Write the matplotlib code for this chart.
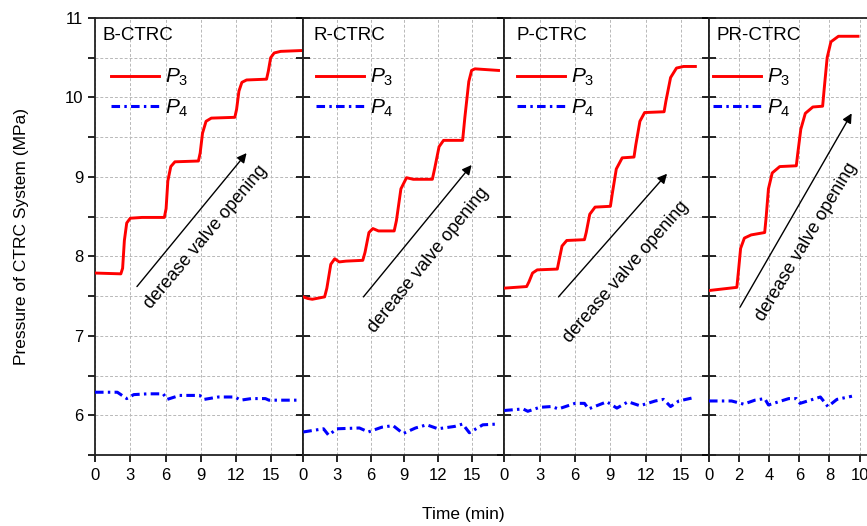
import matplotlib
matplotlib.use("Agg")
import matplotlib.pyplot as plt
from matplotlib.ticker import MultipleLocator, FuncFormatter

plt.rcParams['font.family'] = ['Liberation Sans', 'DejaVu Sans']
plt.rcParams['mathtext.fontset'] = 'custom'
plt.rcParams['mathtext.it'] = 'Liberation Sans:italic'
plt.rcParams['mathtext.rm'] = 'Liberation Sans'

# ---- data ----
panel_names = ['B-CTRC', 'R-CTRC', 'P-CTRC', 'PR-CTRC']

b_t3 = [0, 2.2, 2.35, 2.5, 2.7, 3.0, 4, 5.9, 6.05, 6.2, 6.45, 6.8, 8.8, 8.95, 9.15, 9.45,
        9.9, 11.9, 12.05, 12.25, 12.5, 12.9, 14.6, 14.75, 14.95, 15.25, 15.8, 17.5]
b_p3 = [7.79, 7.78, 7.85, 8.2, 8.42, 8.48, 8.49, 8.49, 8.6, 8.95, 9.13, 9.19, 9.2, 9.3, 9.55, 9.7,
        9.74, 9.75, 9.85, 10.08, 10.19, 10.22, 10.23, 10.33, 10.5, 10.56, 10.58, 10.59]
b_t4 = [0, 1.9, 2.7, 3.3, 4.5, 5.8, 6.15, 7.2, 8.9, 9.3, 10.5, 11.9, 12.4, 13.3, 14.5, 14.8, 17.5]
b_p4 = [6.29, 6.29, 6.21, 6.26, 6.27, 6.27, 6.20, 6.25, 6.25, 6.20, 6.23, 6.23, 6.19, 6.21, 6.21, 6.19, 6.19]

r_t3 = [0, 0.4, 0.8, 1.9, 2.1, 2.45, 2.8, 3.2, 3.8, 5.3, 5.5, 5.85, 6.2, 6.7, 8.1, 8.3, 8.7, 9.2,
        9.8, 11.5, 11.7, 12.1, 12.5, 14.2, 14.4, 14.75, 15.0, 15.3, 17.4]
r_p3 = [7.49, 7.47, 7.46, 7.49, 7.6, 7.9, 7.97, 7.93, 7.94, 7.95, 8.05, 8.3, 8.35, 8.32, 8.32, 8.45, 8.85, 8.99,
        8.97, 8.97, 9.1, 9.38, 9.46, 9.46, 9.75, 10.2, 10.34, 10.36, 10.34]
r_t4 = [0, 1.8, 2.25, 3.0, 5.0, 5.8, 7.0, 8.0, 8.9, 10.0, 11.0, 12.0, 13.5, 14.2, 14.8, 16.0, 17.4]
r_p4 = [5.79, 5.83, 5.75, 5.83, 5.84, 5.79, 5.85, 5.87, 5.77, 5.84, 5.88, 5.83, 5.86, 5.89, 5.78, 5.88, 5.89]

p_t3 = [0, 1.9, 2.1, 2.4, 2.8, 4.5, 4.65, 4.9, 5.3, 6.8, 6.95, 7.25, 7.7, 9.0, 9.15, 9.5, 10.0,
        11.0, 11.15, 11.5, 11.9, 13.55, 13.7, 14.1, 14.6, 15.2, 16.2]
p_p3 = [7.6, 7.62, 7.68, 7.79, 7.83, 7.84, 7.95, 8.13, 8.2, 8.21, 8.3, 8.53, 8.62, 8.63, 8.78, 9.1, 9.24,
        9.25, 9.4, 9.7, 9.81, 9.82, 9.95, 10.25, 10.37, 10.39, 10.39]
p_t4 = [0, 1.6, 2.0, 3.0, 4.0, 4.6, 6.0, 6.8, 7.15, 8.7, 9.55, 10.5, 11.5, 12.8, 13.5, 14.1, 14.8, 16.0]
p_p4 = [6.06, 6.08, 6.05, 6.10, 6.11, 6.08, 6.15, 6.15, 6.08, 6.17, 6.09, 6.17, 6.12, 6.18, 6.20, 6.11, 6.18, 6.22]

pr_t3 = [0, 1.85, 1.95, 2.1, 2.35, 2.8, 3.7, 3.8, 3.95, 4.2, 4.7, 5.8, 5.9, 6.1, 6.4, 6.9,
         7.55, 7.65, 7.85, 8.1, 8.6, 9.9]
pr_p3 = [7.57, 7.61, 7.8, 8.1, 8.23, 8.27, 8.3, 8.5, 8.85, 9.05, 9.13, 9.14, 9.3, 9.6, 9.8, 9.88,
         9.89, 10.1, 10.5, 10.7, 10.77, 10.77]
pr_t4 = [0, 1.5, 2.3, 3.05, 3.7, 3.95, 5.3, 5.8, 6.05, 7.4, 7.9, 8.5, 9.5]
pr_p4 = [6.18, 6.18, 6.14, 6.19, 6.21, 6.13, 6.21, 6.21, 6.15, 6.23, 6.11, 6.20, 6.24]

series = [(b_t3, b_p3, b_t4, b_p4), (r_t3, r_p3, r_t4, r_p4),
          (p_t3, p_p3, p_t4, p_p4), (pr_t3, pr_p3, pr_t4, pr_p4)]

# arrows: (t_start, v_start, t_end, v_end), text centre and angle
arrows = [(3.57, 7.62, 12.9, 9.30), (5.36, 7.49, 15.0, 9.15),
          (4.6, 7.49, 13.8, 9.04), (2.06, 7.36, 9.48, 9.80)]
notes = [(9.4, 8.24, 50), (11.2, 7.95, 51), (10.3, 7.80, 49), (6.46, 8.18, 59)]

# ---- layout (pixels) ----
W, H = 867, 526
x_edges = [95, 303.3, 504.2, 709]
x_max = [17.73, 17.9, 17.36, 11.0]
x_step = [3, 3, 3, 2]
px_per = [11.75, 11.22, 11.8, 15.05]
title_dx = [7, 10, 12.5, 7.5]
leg_dx = [17, 13.5, 14, 5]
top, bottom = 18, 455

fig = plt.figure(figsize=(W / 100, H / 100), dpi=100)
axes = []
for i in range(4):
    w = x_max[i] * px_per[i]
    ax = fig.add_axes([x_edges[i] / W, 1 - bottom / H, w / W, (bottom - top) / H])
    axes.append(ax)
    t3, p3, t4, p4 = series[i]
    ax.plot(t3, p3, color='#ff0000', lw=2.1, label='$P_3$', solid_joinstyle='round', zorder=4)
    ax.plot(t4, p4, color='#0000ff', lw=2.2, ls=(0, (2.8, 1.4, 0.8, 1.4)), label='$P_4$',
            zorder=4)
    ax.set_xlim(0, x_max[i])
    ax.set_ylim(5.5, 11)
    ax.xaxis.set_major_locator(MultipleLocator(x_step[i]))
    ax.yaxis.set_major_locator(MultipleLocator(0.5))
    ax.grid(True, color='#b8b8b8', ls=(0, (3, 2)), lw=0.7)
    for s in ax.spines.values():
        s.set_linewidth(1.3)
        s.set_color('#222222')
    ax.tick_params(axis='x', direction='out', length=5, width=1.2, labelsize=12, pad=4)
    if i == 0:
        ax.tick_params(axis='y', direction='out', length=5, width=1.2, labelsize=12)
        ax.yaxis.set_major_formatter(FuncFormatter(
            lambda v, p: '%d' % v if abs(v - round(v)) < 1e-6 else ''))
    else:
        ax.tick_params(axis='y', direction='inout', length=10, width=1.2, labelleft=False)
    ax.text(title_dx[i] / w, 1 - 18 / (bottom - top), panel_names[i], transform=ax.transAxes,
            fontsize=13.5, ha='left', va='center')
    leg = ax.legend(loc='upper left', frameon=False, fontsize=15,
                    bbox_to_anchor=(leg_dx[i] / w - 0.005, 1 - 49 / (bottom - top)),
                    borderpad=0, borderaxespad=0, handlelength=2.3, handletextpad=0.3,
                    labelspacing=0.45)
    a = arrows[i]
    ax.annotate('', xy=(a[2], a[3]), xytext=(a[0], a[1]),
                arrowprops=dict(arrowstyle='-|>', color='black', lw=1.0,
                                mutation_scale=14, shrinkA=0, shrinkB=0), zorder=5)
    n = notes[i]
    ax.text(n[0], n[1], 'derease valve opening', rotation=n[2], rotation_mode='anchor',
            fontsize=13, ha='center', va='center', zorder=5)

fig.text(22 / W, 1 - 236 / H, 'Pressure of CTRC System (MPa)', rotation=90,
         fontsize=12.5, ha='center', va='center')
fig.text(463 / W, 1 - 514 / H, 'Time (min)', fontsize=12.5, ha='center', va='center')

fig.savefig('out.png', dpi=100)
